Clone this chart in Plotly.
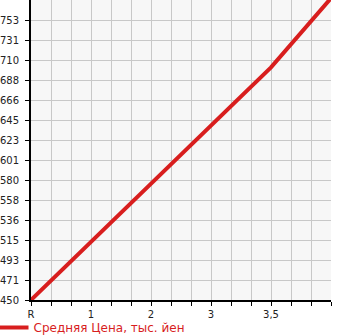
import plotly.graph_objects as go

x_labels = ["R", "1", "2", "3", "3,5", ""]
x_pos = [0, 1, 2, 3, 4, 5]
prices = [450, 513, 575, 639, 702, 777]
series_name = "Средняя Цена, тыс. йен"

y_min, y_max = 450, 775
n_steps = 15
y_ticks = [y_min + i * (y_max - y_min) / n_steps for i in range(n_steps)]
y_text = [str(int(v)) for v in y_ticks]

x_ticks = [i / 3 for i in range(16)]
x_text = []
for t in x_ticks:
    if abs(t - round(t)) < 1e-9 and int(round(t)) < len(x_labels):
        x_text.append(x_labels[int(round(t))])
    else:
        x_text.append(" ")

red = "#d81e1e"

fig = go.Figure()
fig.add_trace(go.Scatter(
    x=x_pos, y=prices, mode="lines", name=series_name,
    line=dict(color=red, width=4), showlegend=True,
))

fig.update_layout(
    width=345, height=335,
    margin=dict(l=31, r=14, t=0, b=35, autoexpand=False),
    paper_bgcolor="white", plot_bgcolor="#f7f7f7",
    font=dict(family="DejaVu Sans", size=10, color="#222"),
    showlegend=True,
    legend=dict(
        orientation="h", x=-0.125, xanchor="left", xref="paper",
        y=-0.043, yref="paper", yanchor="top",
        font=dict(size=12, color=red), bgcolor="rgba(0,0,0,0)",
        itemclick=False,
    ),
    xaxis=dict(
        range=[0, 5], tickmode="array", tickvals=x_ticks, ticktext=x_text,
        showgrid=True, gridcolor="#c8c8c8", gridwidth=1,
        showline=True, linecolor="black", linewidth=2,
        ticks="outside", ticklen=4, tickcolor="black",
        zeroline=False, fixedrange=True,
    ),
    yaxis=dict(
        range=[y_min, y_max], tickmode="array", tickvals=y_ticks, ticktext=y_text,
        showgrid=True, gridcolor="#c8c8c8", gridwidth=1,
        showline=True, linecolor="black", linewidth=2,
        ticks="outside", ticklen=4, tickcolor="black",
        ticklabelstandoff=4,
        zeroline=False, fixedrange=True,
    ),
)

fig.write_html("out.html")
